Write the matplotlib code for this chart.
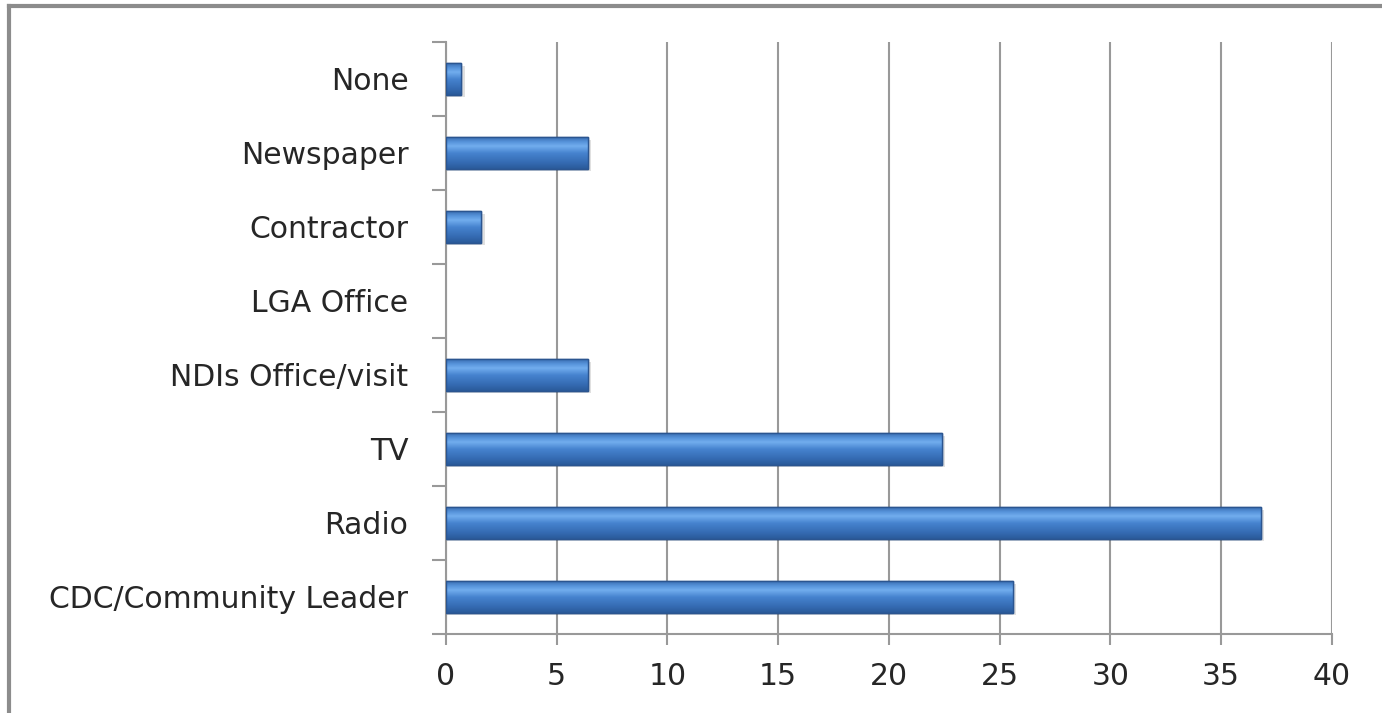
import numpy as np
import matplotlib
matplotlib.use("Agg")
import matplotlib.pyplot as plt
from matplotlib.colors import LinearSegmentedColormap
from matplotlib.lines import Line2D

# categories listed bottom to top
categories = ["CDC/Community Leader", "Radio", "TV", "NDIs Office/visit",
              "LGA Office", "Contractor", "Newspaper", "None"]
values = [25.6, 36.8, 22.4, 6.4, 0, 1.6, 6.4, 0.7]
xticks = [0, 5, 10, 15, 20, 25, 30, 35, 40]

plt.rcParams['font.family'] = ['DejaVu Sans']

fig = plt.figure(figsize=(13.82, 7.13), dpi=100)
ax = fig.add_axes([0.3227, 0.1108, 0.6411, 0.8303])

# outer frame (top and left visible)
fig.add_artist(Line2D([9/1382, 9/1382], [0, 1 - 6/713], color='#8c8c8c', lw=3, transform=fig.transFigure))
fig.add_artist(Line2D([9/1382, 1], [1 - 6/713, 1 - 6/713], color='#8c8c8c', lw=3, transform=fig.transFigure))

bar_h = 0.42
ypos = np.arange(len(categories))

# vertical gradient for glossy bars
cmap = LinearSegmentedColormap.from_list("blu", [
    (0.0, "#2a5a99"), (0.2, "#356bb3"), (0.5, "#4683cf"),
    (0.72, "#72adee"), (0.85, "#5895dc"), (1.0, "#3a6fb3")])
grad = np.linspace(0, 1, 64).reshape(-1, 1)

for y, v in zip(ypos, values):
    if v <= 0:
        continue
    # soft shadow
    ax.barh(y - 0.04, v + 0.15, height=bar_h, left=0, color='#000000', alpha=0.12, zorder=2, lw=0)
    bar = ax.barh(y, v, height=bar_h, color='#3a72bb', edgecolor='#2b5590', lw=1, zorder=3)[0]
    im = ax.imshow(grad, extent=(0, v, y - bar_h/2, y + bar_h/2), origin='lower',
                   cmap=cmap, aspect='auto', zorder=4)
    im.set_clip_path(bar)
    ax.barh(y, v, height=bar_h, color='none', edgecolor='#2b5590', lw=1, zorder=5)

ax.set_xlim(0, 40)
ax.set_ylim(-0.5, len(categories) - 0.5)
ax.set_xticks(xticks)
ax.set_xticklabels([str(t) for t in xticks])
ax.set_yticks(ypos)
ax.set_yticklabels(categories)
ax.set_yticks(np.arange(-0.5, len(categories)), minor=True)

ax.grid(axis='x', color='#999999', lw=1.5, zorder=1)
ax.set_axisbelow(True)

for s in ['top', 'right']:
    ax.spines[s].set_visible(False)
for s in ['left', 'bottom']:
    ax.spines[s].set_color('#999999')
    ax.spines[s].set_linewidth(1.5)

ax.tick_params(axis='y', which='major', length=0, pad=27, labelsize=21.5, labelcolor='#262626')
ax.tick_params(axis='y', which='minor', length=10, width=1.5, color='#999999')
ax.tick_params(axis='x', which='major', length=8, width=1.5, color='#999999', pad=12,
               labelsize=21.5, labelcolor='#262626')

fig.savefig("out.png", dpi=100)
